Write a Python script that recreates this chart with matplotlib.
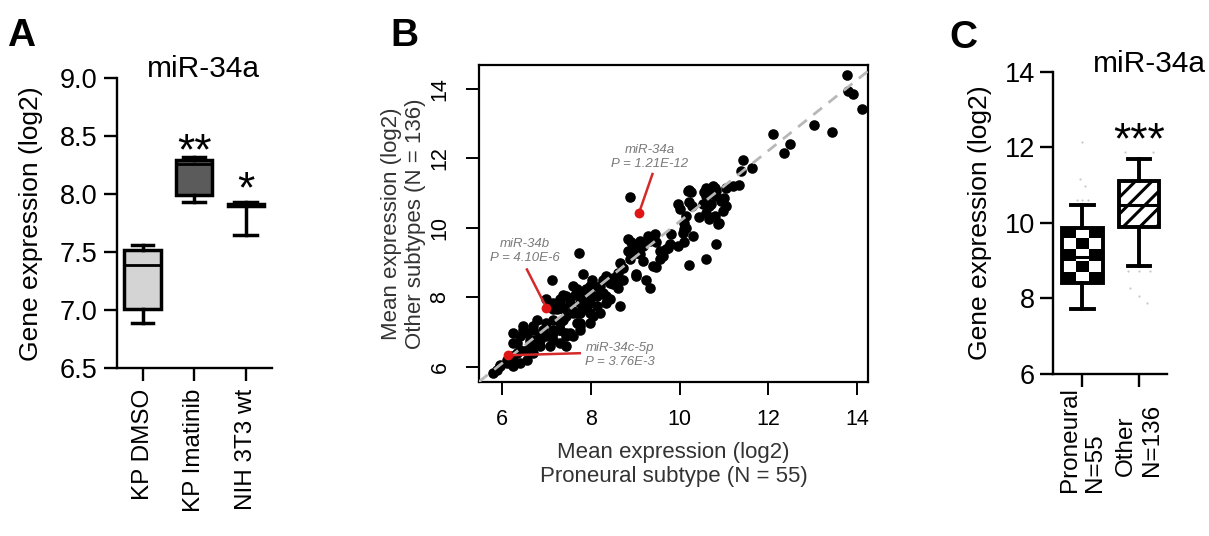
import numpy as np
import matplotlib
matplotlib.use("Agg")
import matplotlib.pyplot as plt

plt.rcParams['font.family'] = ['Liberation Sans', 'DejaVu Sans']
plt.rcParams['hatch.linewidth'] = 2.2

# ---- panel A data (box summaries, log2) ----
a_groups = ["KP DMSO", "KP Imatinib", "NIH 3T3 wt"]
a_whislo = [6.89, 7.93, 7.65]
a_q1 = [7.01, 7.99, 7.90]
a_med = [7.39, 8.26, 7.91]
a_q3 = [7.52, 8.30, 7.92]
a_whishi = [7.56, 8.32, 7.93]
a_stars = ["", "**", "*"]
a_star_y = [0, 8.48, 8.15]

# ---- panel B data: mean expression proneural (x) vs other subtypes (y) ----
b_x = [13.78, 13.80, 13.90, 14.12, 13.03, 13.43, 12.10, 12.49, 12.35, 11.42, 11.39, 11.63, 11.35,
       10.21, 9.96, 10.00, 10.22, 10.28, 10.56, 10.60, 10.79, 10.82, 10.75, 11.05, 11.01, 10.94,
       10.67, 10.52, 10.45, 10.67, 10.79, 10.86, 10.97, 10.11, 10.15, 10.07, 10.82, 10.30, 9.81,
       10.19, 10.26, 10.60, 10.75, 10.82, 10.97, 11.20, 11.05, 10.60, 10.90, 10.71, 10.15, 10.11,
       10.22, 10.60, 9.96, 10.11,
       8.88, 8.84, 8.91, 9.10, 9.29, 9.44, 9.33, 9.48, 9.18, 9.03, 8.84, 8.99, 9.18, 9.10, 9.55,
       9.74, 9.62, 9.55, 9.78, 9.48, 9.70, 9.40, 9.25, 9.03, 9.33,
       7.73, 7.12, 7.83, 8.65, 8.73, 8.61, 8.50, 8.43, 8.58, 8.35, 8.28, 8.20, 9.03, 8.65, 8.02,
       8.05, 7.90, 7.75, 7.60, 7.64, 7.45, 7.38, 7.53, 7.75, 7.90, 8.13, 8.20, 8.35, 8.43, 7.38,
       7.60, 7.83, 8.28, 8.05, 7.98, 8.88, 8.73, 8.50, 8.61,
       7.68, 7.90, 7.98, 7.60, 7.38, 7.75, 7.53, 7.45, 7.23, 7.15, 7.00, 6.93, 6.85, 6.74, 6.63,
       6.56, 6.40, 6.33, 6.25, 6.11, 5.96, 5.88, 5.80, 7.30, 7.15, 6.78, 6.70, 6.56, 6.40, 6.25,
       6.48, 7.00, 6.85, 6.70, 7.15, 7.30, 6.56, 6.40, 6.25, 7.68, 8.05, 8.20, 7.98, 8.13, 8.35,
       7.75, 7.45, 7.60, 7.30, 7.08, 7.00, 7.08, 7.15, 7.30, 7.45, 7.30, 7.68, 7.75, 7.45, 7.30,
       7.15, 6.85, 6.63, 6.70, 6.33, 6.22, 6.11, 5.96, 6.25, 6.48, 6.70, 7.15, 7.38, 7.90, 7.83,
       7.90, 7.75, 7.98]
b_y = [14.39, 13.95, 13.85, 13.43, 12.95, 12.77, 12.71, 12.40, 12.15, 11.95, 11.64, 11.71, 11.23,
       11.09, 10.68, 10.54, 10.73, 10.63, 11.02, 10.92, 11.16, 11.07, 10.97, 11.16, 10.87, 10.78,
       10.63, 10.68, 10.30, 10.25, 10.34, 10.10, 10.49, 10.15, 10.00, 9.86, 9.53, 9.77, 9.82,
       11.07, 11.02, 11.16, 11.21, 10.92, 10.83, 11.21, 10.63, 10.44, 10.15, 10.68, 10.34, 9.96,
       8.92, 9.11, 9.48, 9.58,
       10.88, 9.69, 9.58, 9.62, 9.77, 9.82, 9.62, 9.58, 9.48, 9.48, 9.33, 9.28, 9.04, 9.24, 9.33,
       9.43, 9.19, 9.09, 9.53, 8.88, 9.38, 8.90, 8.51, 8.66, 8.27,
       9.27, 8.51, 8.66, 9.00, 8.85, 8.71, 8.56, 8.42, 8.37, 8.61, 8.51, 8.32, 8.61, 7.76, 8.51,
       8.32, 8.23, 8.13, 8.32, 8.08, 8.03, 8.08, 7.84, 7.84, 7.99, 8.03, 8.13, 8.03, 7.94, 7.65,
       7.60, 7.65, 8.13, 8.03, 8.32, 9.09, 8.51, 8.37, 8.27,
       8.23, 8.03, 7.55, 7.55, 7.36, 7.26, 6.97, 6.88, 7.65, 7.36, 7.26, 7.07, 6.88, 6.78, 6.68,
       6.49, 6.49, 6.40, 6.20, 6.11, 6.01, 5.91, 5.82, 7.94, 7.84, 7.36, 7.16, 6.97, 6.88, 6.68,
       7.16, 6.88, 6.59, 6.40, 6.78, 7.07, 6.20, 6.11, 6.01, 7.55, 7.45, 7.55, 7.26, 7.74, 7.84,
       7.16, 6.59, 6.88, 6.68, 6.59, 7.94, 7.74, 7.65, 7.84, 7.45, 7.26, 7.26, 7.07, 6.97, 7.07,
       6.97, 6.78, 6.78, 6.59, 6.68, 6.30, 6.20, 6.06, 6.97, 7.07, 7.07, 7.07, 7.65, 7.84, 7.84,
       7.65, 7.55, 7.84]

mir_names = ["miR-34a", "miR-34b", "miR-34c-5p"]
mir_pvals = ["1.21E-12", "4.10E-6", "3.76E-3"]
mir_x = [9.09, 7.00, 6.14]
mir_y = [10.44, 7.70, 6.33]
label_x = [9.33, 6.52, 7.88]
label_y = [12.03, 9.33, 6.33]
leader_end_x = [9.39, 6.56, 7.75]
leader_end_y = [11.55, 8.80, 6.39]
fit_slope = 1.02
fit_intercept = -0.02

# ---- panel C data ----
c_groups = ["Proneural\nN=55", "Other\nN=136"]
c_whislo = [7.71, 8.85]
c_q1 = [8.41, 9.89]
c_med = [9.10, 10.48]
c_q3 = [9.87, 11.10]
c_whishi = [10.46, 11.69]
c_out_x = [0, 0, 0, 0, 0, 0, 1, 1, 1, 1, 1, 1, 1, 1]
c_out_y = [12.13, 11.15, 10.97, 10.61, 10.61, 10.61, 11.87, 11.87, 8.72, 8.72, 8.72, 8.28, 8.06, 7.88]
c_out_dx = [0, -0.05, 0.05, -0.1, 0, 0.1, -0.25, 0.25, -0.2, 0, 0.2, -0.15, 0, 0.15]

fig = plt.figure(figsize=(12.09, 5.36), dpi=100)

fig.text(0.006, 0.914, "A", fontsize=28, fontweight="bold")
fig.text(0.323, 0.914, "B", fontsize=28, fontweight="bold")
fig.text(0.785, 0.910, "C", fontsize=28, fontweight="bold")


def style_prism(ax):
    for s in ["top", "right"]:
        ax.spines[s].set_visible(False)
    for s in ["left", "bottom"]:
        ax.spines[s].set_linewidth(1.7)
    ax.tick_params(width=1.7, length=9.5, direction="out", colors="black")


def stars(ax, x, y, txt, fs):
    ax.annotate(txt, (x, y), xytext=(0, -0.58 * fs), textcoords="offset points",
                ha="center", va="baseline", fontsize=fs)


# ---------------- A ----------------
axA = fig.add_axes([0.0965, 0.3129, 0.1282, 0.541])
statsA = []
for i in range(len(a_groups)):
    statsA.append(dict(whislo=a_whislo[i], q1=a_q1[i], med=a_med[i], q3=a_q3[i],
                       whishi=a_whishi[i], fliers=[], label=a_groups[i]))
bpA = axA.bxp(statsA, positions=range(3), widths=0.7, capwidths=[0.42, 0.42, 0.45],
              patch_artist=True, showfliers=False,
              boxprops=dict(linewidth=2.5, edgecolor="black"),
              whiskerprops=dict(linewidth=2.5), capprops=dict(linewidth=2.5),
              medianprops=dict(color="black", linewidth=2.0))
for patch, fc in zip(bpA["boxes"], ["#d4d4d4", "#5b5b5b", "#ffffff"]):
    patch.set_facecolor(fc)
for i, s in enumerate(a_stars):
    if s:
        stars(axA, i, a_star_y[i], s, 32)
axA.set_ylim(6.5, 9.0)
axA.set_xlim(-0.5, 2.5)
axA.set_yticks([6.5, 7.0, 7.5, 8.0, 8.5, 9.0])
axA.set_yticklabels(["6.5", "7.0", "7.5", "8.0", "8.5", "9.0"], fontsize=19.5)
axA.set_xticks(range(3))
axA.set_xticklabels(a_groups, rotation=90, fontsize=17.5)
style_prism(axA)
axA.tick_params(axis="y", pad=4.5)
axA.tick_params(axis="x", pad=5.5)
axA.set_ylabel("Gene expression (log2)", fontsize=19)
axA.yaxis.set_label_coords(-0.475, 0.5)
fig.text(0.1687, 0.857, "miR-34a", fontsize=21.5, ha="center", va="baseline")

# ---------------- B ----------------
axB = fig.add_axes([0.3962, 0.2879, 0.3218, 0.5909])
axB.scatter(b_x, b_y, s=58, color="black", linewidths=0, zorder=2)
axB.axline((0, fit_intercept), slope=fit_slope, color="#b8b8b8", lw=2.0,
           linestyle=(0, (4, 3)), zorder=3)
for i in range(len(mir_names)):
    axB.plot([mir_x[i], leader_end_x[i]], [mir_y[i], leader_end_y[i]], color="#d42a2a",
             lw=1.8, zorder=4)
    axB.scatter([mir_x[i]], [mir_y[i]], s=50, color="#e01515", linewidths=0, zorder=5)
    ha = "left" if i == 2 else "center"
    axB.text(label_x[i], label_y[i], "%s\nP = %s" % (mir_names[i], mir_pvals[i]),
             fontsize=9.5, style="italic", color="#7a7a7a", ha=ha, va="center",
             multialignment="center" if i < 2 else "left", linespacing=1.25)
axB.set_xlim(5.48, 14.25)
axB.set_ylim(5.57, 14.69)
axB.set_xticks([6, 8, 10, 12, 14])
axB.set_yticks([6, 8, 10, 12, 14])
axB.tick_params(length=9.5, width=1.4, labelsize=15.5)
axB.tick_params(axis="x", pad=10.5)
axB.tick_params(axis="y", pad=11, labelrotation=90)
for t in axB.get_yticklabels():
    t.set_va("center")
for s in axB.spines.values():
    s.set_linewidth(1.6)
axB.set_xlabel("Mean expression (log2)\nProneural subtype (N = 55)", fontsize=16,
               color="#333333", linespacing=1.2)
axB.xaxis.set_label_coords(0.5, -0.19)
axB.set_ylabel("Mean expression (log2)\nOther subtypes (N = 136)", fontsize=16,
               color="#333333", linespacing=1.2)
axB.yaxis.set_label_coords(-0.135, 0.5)

# ---------------- C ----------------
axC = fig.add_axes([0.871, 0.3022, 0.0943, 0.564])
axC.scatter(np.array(c_out_x) + np.array(c_out_dx), c_out_y, s=2.5, color="#c8c8c8",
            linewidths=0, zorder=1)
statsC = []
for i in range(len(c_groups)):
    statsC.append(dict(whislo=c_whislo[i], q1=c_q1[i], med=c_med[i], q3=c_q3[i],
                       whishi=c_whishi[i], fliers=[], label=c_groups[i]))
bpC = axC.bxp(statsC, positions=range(2), widths=0.72, capwidths=0.4,
              patch_artist=True, showfliers=False,
              boxprops=dict(linewidth=2.8, edgecolor="black"),
              whiskerprops=dict(linewidth=2.8), capprops=dict(linewidth=2.8),
              medianprops=dict(color="black", linewidth=2.2))
# checkerboard texture for the proneural box
boxP = bpC["boxes"][0]
boxP.set_facecolor("none")
checker = np.indices((5, 3)).sum(axis=0) % 2
im = axC.imshow(checker, cmap="gray", interpolation="nearest", aspect="auto",
                extent=[-0.36, 0.36, c_q1[0], c_q3[0]], zorder=1.5)
im.set_clip_path(boxP)
# hatched texture for the other box
boxO = bpC["boxes"][1]
boxO.set_facecolor("white")
boxO.set_hatch("//")
stars(axC, 1, 12.52, "***", 32)
axC.set_xlim(-0.52, 1.5)
axC.set_ylim(6, 14)
axC.set_yticks([6, 8, 10, 12, 14])
axC.set_yticklabels(["6", "8", "10", "12", "14"], fontsize=19.5)
axC.set_xticks(range(2))
axC.set_xticklabels(c_groups, rotation=90, fontsize=17.5, multialignment="left")
for t in axC.get_xticklabels():
    t.set_va("center")
style_prism(axC)
axC.tick_params(axis="y", pad=3.5)
axC.tick_params(axis="x", pad=38)
axC.set_ylabel("Gene expression (log2)", fontsize=19)
axC.yaxis.set_label_coords(-0.535, 0.5)
fig.text(0.9504, 0.866, "miR-34a", fontsize=21.5, ha="center", va="baseline")

fig.savefig("out.png", dpi=100)
